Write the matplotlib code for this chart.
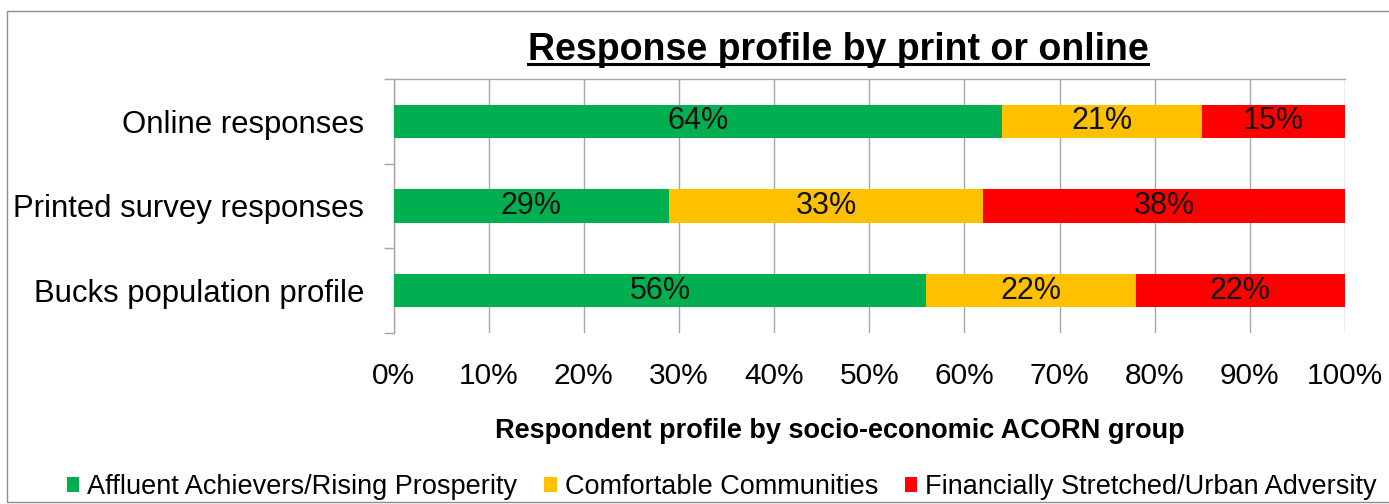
import matplotlib
matplotlib.use("Agg")
import matplotlib.pyplot as plt
from matplotlib.patches import Patch, Rectangle
from matplotlib.lines import Line2D

plt.rcParams['font.family'] = ['Liberation Sans', 'DejaVu Sans']

categories = ["Online responses", "Printed survey responses", "Bucks population profile"]
groups = ["Affluent Achievers/Rising Prosperity", "Comfortable Communities",
          "Financially Stretched/Urban Adversity"]
affluent = [64, 29, 56]
comfortable = [21, 33, 22]
stretched = [15, 38, 22]
colors = ["#00B050", "#FFC000", "#FF0000"]
grid_col = "#A6A6A6"

W, H = 1389, 504
fig = plt.figure(figsize=(W / 100, H / 100), dpi=100)
ax = fig.add_axes([393.5 / W, 1 - 333 / H, (1345 - 393.5) / W, (333 - 79) / H])

ypos = list(range(len(categories)))
left = [0] * len(categories)
for vals, col in zip([affluent, comfortable, stretched], colors):
    bars = ax.barh(ypos, vals, left=left, height=0.39, color=col, zorder=3)
    for b, v in zip(bars, vals):
        ax.text(b.get_x() + b.get_width() / 2, b.get_y() + b.get_height() / 2,
                f"{v}%", ha="center", va="center", fontsize=22, color="#111111", zorder=4)
    left = [l + v for l, v in zip(left, vals)]

ax.set_xlim(0, 100)
ax.set_ylim(len(categories) - 0.5, -0.5)

ax.set_xticks(range(0, 101, 10))
ax.set_xticklabels([f"{t}%" for t in range(0, 101, 10)], fontsize=21.5)
ax.tick_params(axis="x", length=0, pad=21)
ax.xaxis.grid(True, color=grid_col, lw=1, zorder=0)

# major ticks sit on the category boundaries, labels on the minor ticks
ax.set_yticks([i - 0.5 for i in range(len(categories) + 1)])
ax.set_yticklabels([])
ax.tick_params(axis="y", which="major", length=7, color=grid_col, width=1)
ax.set_yticks(ypos, minor=True)
ax.set_yticklabels(categories, minor=True, fontsize=22.4)
ax.tick_params(axis="y", which="minor", length=0, pad=21)

for s in ["right", "bottom"]:
    ax.spines[s].set_visible(False)
for s in ["left", "top"]:
    ax.spines[s].set_color(grid_col)
    ax.spines[s].set_linewidth(1)

fig.text(840 / W, 1 - 431 / H, "Respondent profile by socio-economic ACORN group",
         ha="center", va="center", fontsize=19.5, fontweight="bold")

title = fig.text(838 / W, 1 - 60 / H, "Response profile by print or online",
                 ha="center", va="baseline", fontsize=27, fontweight="bold")

handles = [Patch(facecolor=c, edgecolor="none") for c in colors]
fig.legend(handles, groups, loc="center", bbox_to_anchor=(722 / W, 1 - 487 / H),
           ncol=3, frameon=False, fontsize=19.5, handlelength=0.45, handleheight=0.45,
           handletextpad=0.3, columnspacing=1.0, borderaxespad=0)

# outer chart border
fig.patches.append(Rectangle((7 / W, 2 / H), 1.1, 1 - 13 / H, transform=fig.transFigure,
                             fill=False, edgecolor="#8C8C8C", lw=1))

# underline the title
fig.canvas.draw()
bb = title.get_window_extent()
fig.lines.append(Line2D([bb.x0 / W, bb.x1 / W], [(H - 64) / H, (H - 64) / H],
                        transform=fig.transFigure, color="black", lw=2.2))

fig.savefig("out.png", dpi=100)
